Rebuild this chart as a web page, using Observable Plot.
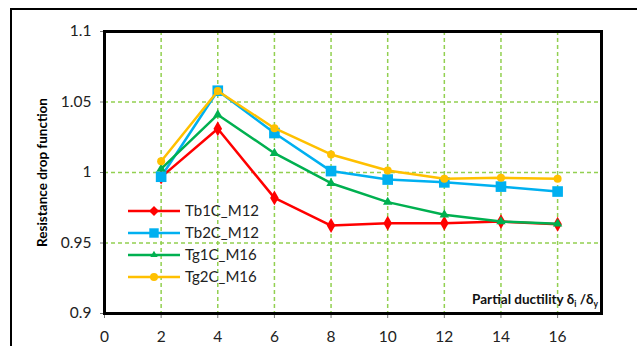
<!DOCTYPE html>
<html>
<head>
<meta charset="utf-8">
<script src="https://cdn.jsdelivr.net/npm/d3@7"></script>
<script src="https://cdn.jsdelivr.net/npm/@observablehq/plot@0.6"></script>
<style>
body{margin:0;background:#fff;overflow:hidden;font-family:Lato,"Open Sans",sans-serif;}
#wrap{position:relative;width:637px;height:346px;overflow:hidden;}
#outer{position:absolute;left:10px;top:8px;width:700px;height:400px;border-top:2px solid #000;border-left:2px solid #000;}
#chart{position:absolute;left:0;top:0;}
</style>
</head>
<body>
<div id="wrap"><div id="outer"></div><div id="chart"></div></div>
<script>
const xs = [2,4,6,8,10,12,14,16];
const seriesNames = ["Tb1C_M12","Tb2C_M12","Tg1C_M16","Tg2C_M16"];
const tb1c = [0.9967,1.031,0.982,0.9624,0.964,0.964,0.9652,0.9633];
const tb2c = [0.997,1.058,1.028,1.001,0.995,0.993,0.990,0.9865];
const tg1c = [1.0026,1.041,1.0137,0.9924,0.979,0.970,0.9652,0.9636];
const tg2c = [1.008,1.0578,1.0314,1.0128,1.0014,0.9955,0.9962,0.9955];
const colors = ["#FF0000","#00B0F0","#00B050","#FFC000"];
const symbols = ["diamond","square","triangle","circle"];
const radii = [4.5,6,3.5,4];
const xTicks = [0,2,4,6,8,10,12,14,16];
const yTicks = [0.9,0.95,1,1.05,1.1];
const yLabel = "Resistance drop function";

const allValues = [tb1c,tb2c,tg1c,tg2c];
const data = [];
allValues.forEach((vals,si)=>vals.forEach((v,i)=>data.push({x:xs[i],y:v,s:seriesNames[si],si})));

const marks = [
  Plot.gridX([2,4,6,8,10,12,14,16],{stroke:"#92D050",strokeOpacity:1,strokeWidth:1.5,strokeDasharray:"4,3"}),
  Plot.gridY([0.95,1,1.05],{stroke:"#92D050",strokeOpacity:1,strokeWidth:1.5,strokeDasharray:"4,3"}),
  Plot.axisX({ticks:xTicks,tickFormat:d=>String(d),tickSize:5,tickPadding:12,fontSize:15.5,label:null,stroke:"#777",fill:"#222"}),
  Plot.axisY({ticks:yTicks,tickFormat:d=>String(d),tickSize:4,tickPadding:9,fontSize:15.5,label:null,stroke:"#777",fill:"#222"}),
  Plot.text([yLabel],{frameAnchor:"left",textAnchor:"middle",rotate:-90,dx:-62,fontWeight:"bold",fontSize:13.5,fill:"#000"})
];
seriesNames.forEach((name,si)=>{
  const d = data.filter(r=>r.si===si);
  marks.push(Plot.line(d,{x:"x",y:"y",stroke:colors[si],strokeWidth:2.5}));
  marks.push(Plot.dot(d,{x:"x",y:"y",fill:colors[si],symbol:symbols[si],r:radii[si],stroke:"none"}));
});
marks.push(Plot.frame({stroke:"#000",strokeWidth:3}));

const plot = Plot.plot({
  width:637,height:346,
  marginLeft:104,marginTop:31,marginRight:36,marginBottom:33,
  style:{background:"transparent",fontFamily:"Lato, 'Open Sans', sans-serif",color:"#222",overflow:"visible"},
  x:{domain:[0,17.55]},
  y:{domain:[0.9,1.1]},
  marks
});
document.getElementById("chart").appendChild(plot);

const svg = d3.select(plot);
// Legend
const lg = svg.append("g").attr("font-family","Lato, 'Open Sans', sans-serif").attr("font-size",15).attr("text-anchor","start");
const symGen = {diamond:d3.symbolDiamond2,square:d3.symbolSquare2,triangle:d3.symbolTriangle2,circle:d3.symbolCircle};
seriesNames.forEach((name,si)=>{
  const y = 211 + si*22;
  lg.append("line").attr("x1",128).attr("x2",180).attr("y1",y).attr("y2",y).attr("stroke",colors[si]).attr("stroke-width",2.5);
  const r = radii[si];
  lg.append("path").attr("transform",`translate(154,${y})`).attr("d",d3.symbol(symGen[symbols[si]], Math.PI*r*r)()).attr("fill",colors[si]);
  lg.append("text").attr("x",185).attr("y",y).attr("dy","0.35em").attr("fill","#222").text(name);
});
// X axis label with subscripts
const xl = svg.append("text").attr("x",598).attr("y",304).attr("text-anchor","end")
  .attr("font-family","Lato, 'Open Sans', sans-serif").attr("font-size",13.5).attr("font-weight","bold").attr("fill","#111");
xl.append("tspan").text("Partial ductility δ");
xl.append("tspan").attr("font-size",8.5).attr("dy",3).text("i");
xl.append("tspan").attr("dy",-3).text(" /δ");
xl.append("tspan").attr("font-size",8.5).attr("dy",3).text("y");
</script>
</body>
</html>
